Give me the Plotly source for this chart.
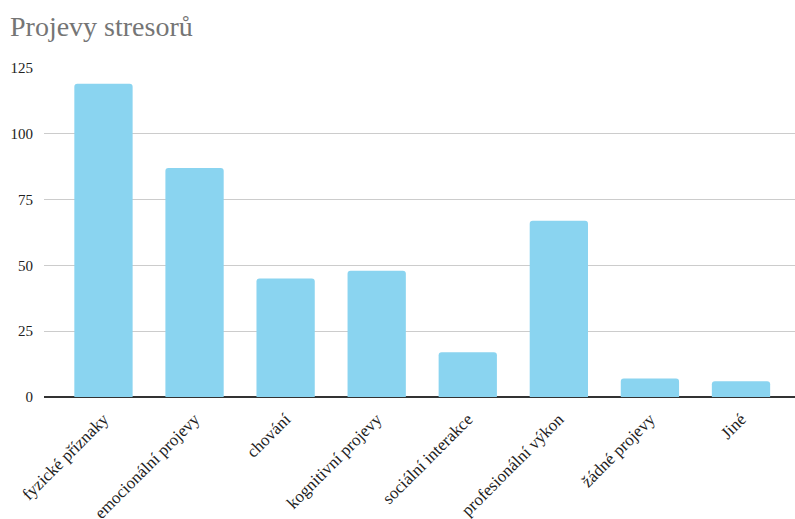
import plotly.graph_objects as go

categories = ["fyzické příznaky", "emocionální projevy", "chování", "kognitivní projevy",
              "sociální interakce", "profesionální výkon", "žádné projevy", "Jiné"]
values = [119, 87, 45, 48, 17, 67, 7, 6]
y_ticks = [0, 25, 50, 75, 100, 125]

SERIF = "Liberation Serif"

fig = go.Figure()
fig.add_trace(go.Bar(
    x=list(range(len(categories))), y=values,
    marker=dict(color="#8AD4F0", line=dict(width=0)),
    width=0.64,
))

fig.update_layout(
    width=795, height=519,
    margin=dict(l=44, r=0, t=68, b=122),
    paper_bgcolor="white", plot_bgcolor="white",
    barcornerradius=3,
    showlegend=False,
    title=dict(text="Projevy stresorů", x=10/795, xanchor="left", y=1-26/519, yanchor="middle",
               font=dict(family=SERIF, size=28, color="#757575")),
    font=dict(family=SERIF, size=15, color="#222222"),
)
fig.update_xaxes(
    range=[-0.653, 7.593], automargin=False,
    tickmode="array", tickvals=list(range(len(categories))), ticktext=categories,
    tickangle=-45, showgrid=False, showline=False, zeroline=False, ticks="",
    ticklabelstandoff=8,
    tickfont=dict(family=SERIF, size=17, color="#222222"),
)
fig.update_yaxes(
    range=[0, 125], tickmode="array", tickvals=y_ticks, automargin=False,
    showgrid=True, gridcolor="#cccccc", gridwidth=1,
    zeroline=True, zerolinecolor="#333333", zerolinewidth=1.5,
    showline=False, ticks="", ticklabelstandoff=10,
    tickfont=dict(family=SERIF, size=15, color="#222222"),
)

fig.write_html("out.html")
